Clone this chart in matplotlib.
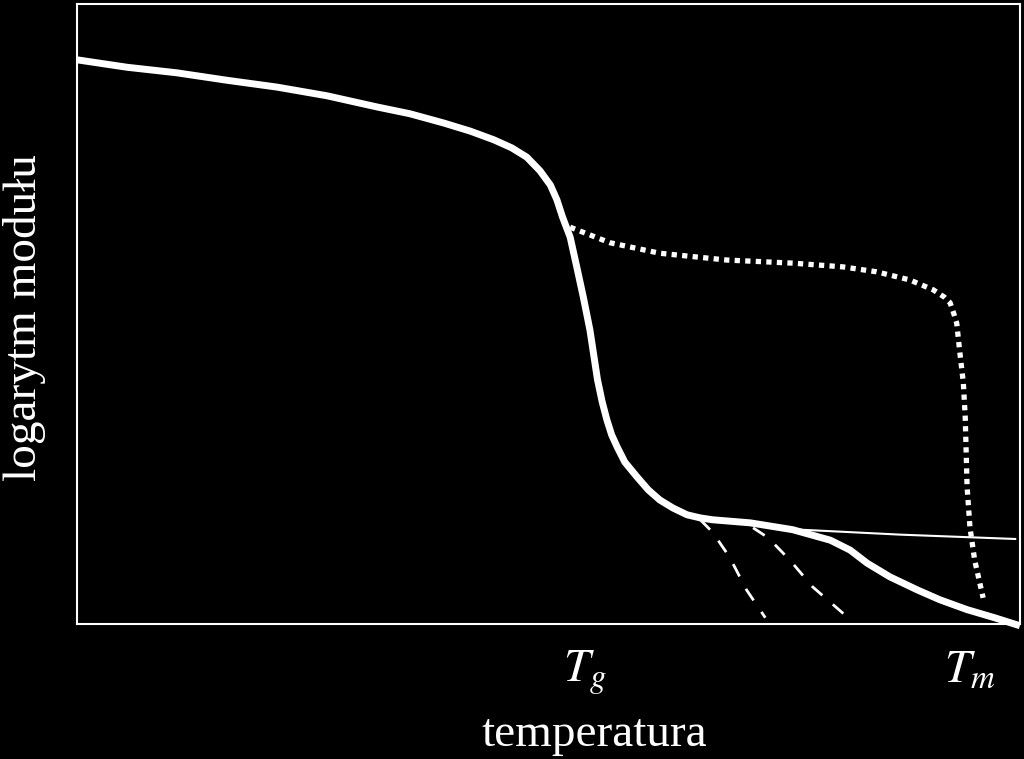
import matplotlib
matplotlib.use("Agg")
import matplotlib.pyplot as plt

plt.rcParams["font.family"] = ["Liberation Serif", "DejaVu Serif"]
plt.rcParams["mathtext.fontset"] = "stix"

# main curve (glass -> rubber -> flow)
main_t = [0, 5.3, 10.6, 15.9, 21.2, 26.5, 31.8, 35.3, 38.9, 41.7, 44.2, 46.1,
          47.7, 49.1, 50.2, 50.9, 51.5, 52.3, 53.0, 53.7, 54.4, 54.8, 55.2,
          55.7, 56.2, 56.7, 57.3, 58.1, 59.4, 60.6, 61.8, 63.2, 64.7, 66.1,
          67.4, 71.4, 75.9, 79.9, 82.0, 83.8, 86.2, 89.1, 91.5, 94.4, 97.3, 100]
main_e = [91.0, 89.8, 88.9, 87.7, 86.6, 85.2, 83.4, 82.3, 80.8, 79.5, 78.1, 76.8,
          75.3, 73.1, 70.8, 68.4, 65.6, 62.4, 57.6, 52.7, 47.4, 43.4, 39.4,
          35.8, 32.9, 30.5, 28.5, 26.1, 23.7, 21.6, 20.0, 18.7, 17.6, 17.1,
          16.8, 16.3, 15.2, 13.5, 11.9, 9.8, 7.6, 5.5, 3.9, 2.3, 1.0, -0.3]

# crosslinked plateau (thin line)
thin_t = [66.1, 71.4, 76.7, 87.3, 99.5]
thin_e = [16.9, 16.3, 15.2, 14.4, 13.7]

# lower molecular weight (dashed)
dash1_t = [66.1, 67.4, 69.2, 71.0, 73.0]
dash1_e = [16.8, 14.8, 10.8, 5.5, 1.0]
dash2_t = [71.7, 73.3, 75.6, 78.0, 81.7]
dash2_e = [15.5, 13.9, 10.3, 6.0, 1.1]

# semicrystalline (dotted)
dot_t = [52.3, 56.5, 61.8, 68.9, 75.9, 81.2, 84.8, 88.3, 90.8, 92.0, 92.6, 93.0,
         93.3, 93.6, 94.0, 94.2, 94.4, 94.7, 95.2, 96.1]
dot_e = [64.0, 61.5, 59.8, 58.7, 58.2, 57.6, 56.8, 55.5, 53.9, 52.7, 51.8, 50.0,
         48.5, 44.2, 38.9, 33.4, 22.1, 15.6, 10.3, 4.2]

tick_pos = [53.9, 94.7]
tick_lab = ["$T_g$", "$T_m$"]

fig = plt.figure(figsize=(10.24, 7.59), dpi=100, facecolor="black")
ax = fig.add_axes([0.0752, 0.178, 0.9208, 0.8167], facecolor="black")
ax.set_xlim(0, 100)
ax.set_ylim(0, 100)

ax.plot(main_t, main_e, color="white", lw=5, solid_capstyle="butt",
        solid_joinstyle="round", clip_on=False)
ax.plot(thin_t, thin_e, color="white", lw=1.5)
ax.plot(dash1_t, dash1_e, color="white", lw=2, linestyle=(0, (5, 5)))
ax.plot(dash2_t, dash2_e, color="white", lw=2, linestyle=(0, (5, 5)))
ax.plot(dot_t, dot_e, color="white", lw=3.8, linestyle=(0, (1, 1)),
        dash_capstyle="butt")

for s in ax.spines.values():
    s.set_color("white")
    s.set_linewidth(1.5)

ax.set_yticks([])
ax.set_xticks(tick_pos)
ax.set_xticklabels(tick_lab, fontsize=34, color="white")
ax.tick_params(axis="x", length=0, pad=18)

ax.set_xlabel("temperatura", fontsize=34, color="white")
ax.xaxis.set_label_coords(0.549, -0.144)
ax.set_ylabel("logarytm modułu", fontsize=34, color="white")
ax.yaxis.set_label_coords(-0.033, 0.4935)

fig.savefig("out.png", dpi=100, facecolor="black")
